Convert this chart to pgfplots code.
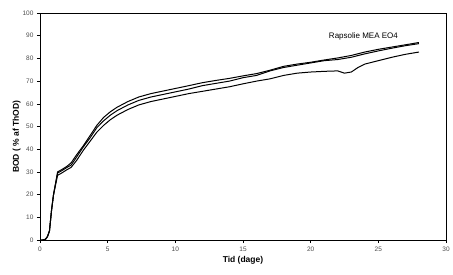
\documentclass[border=0pt]{standalone}
\usepackage{pgfplots}
\pgfplotsset{compat=1.18}
\usepackage{fontspec}
\setmainfont{Liberation Sans}
\begin{document}
\begin{tikzpicture}
\path (-40pt,-34pt) rectangle (413pt,240pt);
\begin{axis}[
  at={(0,0)}, anchor=south west,
  scale only axis, width=406pt, height=227pt,
  xmin=0, xmax=30, ymin=0, ymax=100,
  xtick={0,5,...,30}, ytick={0,10,...,100},
  tick align=outside, xtick pos=bottom, ytick pos=left,
  major tick length=3pt,
  tick style={black, line width=0.6pt},
  axis line style={line width=0.8pt},
  ticklabel style={font=\fontsize{6.5}{7}\selectfont, text=black!70},
  /pgf/number format/assume math mode=true,
  xlabel={\bfseries Tid (dage)}, ylabel={\bfseries BOD ( \% af ThOD)},
  label style={font=\fontsize{8.5}{10}\selectfont\bfseries},
  xlabel style={yshift=2pt},
  ylabel style={at={(ticklabel cs:0.455)}, yshift=-5pt},
]
\addplot[black, line width=1pt, mark=none] coordinates {(0,0)(0.2,0)(0.4,0.3)(0.55,1.5)(0.7,4)(0.85,13)(1.0,20)(1.3,30)(1.6,31)(2.0,32.5)(2.3,34)(2.7,37.5)(3.2,41.5)(3.7,46)(4.2,50.5)(4.7,54)(5.2,56.5)(5.7,58.5)(6.5,61)(7.3,63)(8.2,64.5)(9,65.5)(9.8,66.5)(11,68)(12,69.3)(13,70.3)(14,71.2)(15,72.3)(16,73.3)(17,74.8)(18,76.5)(19,77.5)(20,78.3)(21,79.3)(22,80.2)(23,81.3)(24,82.8)(25,84)(26,85)(27,86)(28,87)};
\addplot[black, line width=1pt, mark=none] coordinates {(0,0)(0.2,0)(0.4,0.3)(0.55,1.5)(0.7,4)(0.85,13)(1.0,20)(1.3,29.5)(1.6,30.5)(2.0,32)(2.3,33)(2.7,36.5)(3.2,41)(3.7,45)(4.2,49.5)(4.7,52.5)(5.2,55)(5.7,57)(6.5,59.5)(7.3,61.5)(8.2,63)(9,64)(9.8,65)(11,66.5)(12,68)(13,69)(14,70)(15,71.5)(16,72.5)(17,74.5)(18,76)(19,77)(20,78)(21,79)(22,79.5)(23,80.5)(24,82)(25,83.3)(26,84.5)(27,85.6)(28,86.5)};
\addplot[black, line width=1pt, mark=none] coordinates {(0,0)(0.2,0)(0.4,0.3)(0.55,1.5)(0.7,4)(0.85,13)(1.0,20)(1.3,28.5)(1.6,29.5)(2.0,31)(2.3,32)(2.7,35)(3.2,39.5)(3.7,43.5)(4.2,47.5)(4.7,50.5)(5.2,53)(5.7,55)(6.5,57.5)(7.3,59.5)(8.2,61)(9,62)(9.8,63)(11,64.5)(12,65.5)(13,66.5)(14,67.5)(15,68.8)(16,70)(17,71)(18,72.5)(19,73.5)(20,74)(21,74.3)(22,74.5)(22.5,73.5)(23,74)(23.5,76)(24,77.5)(25,79)(26,80.5)(27,81.8)(28,82.8)};
\node[font=\fontsize{8}{9}\selectfont] at (axis cs:23.9,89.5) {Rapsolie MEA EO4};
\end{axis}
\end{tikzpicture}
\end{document}
